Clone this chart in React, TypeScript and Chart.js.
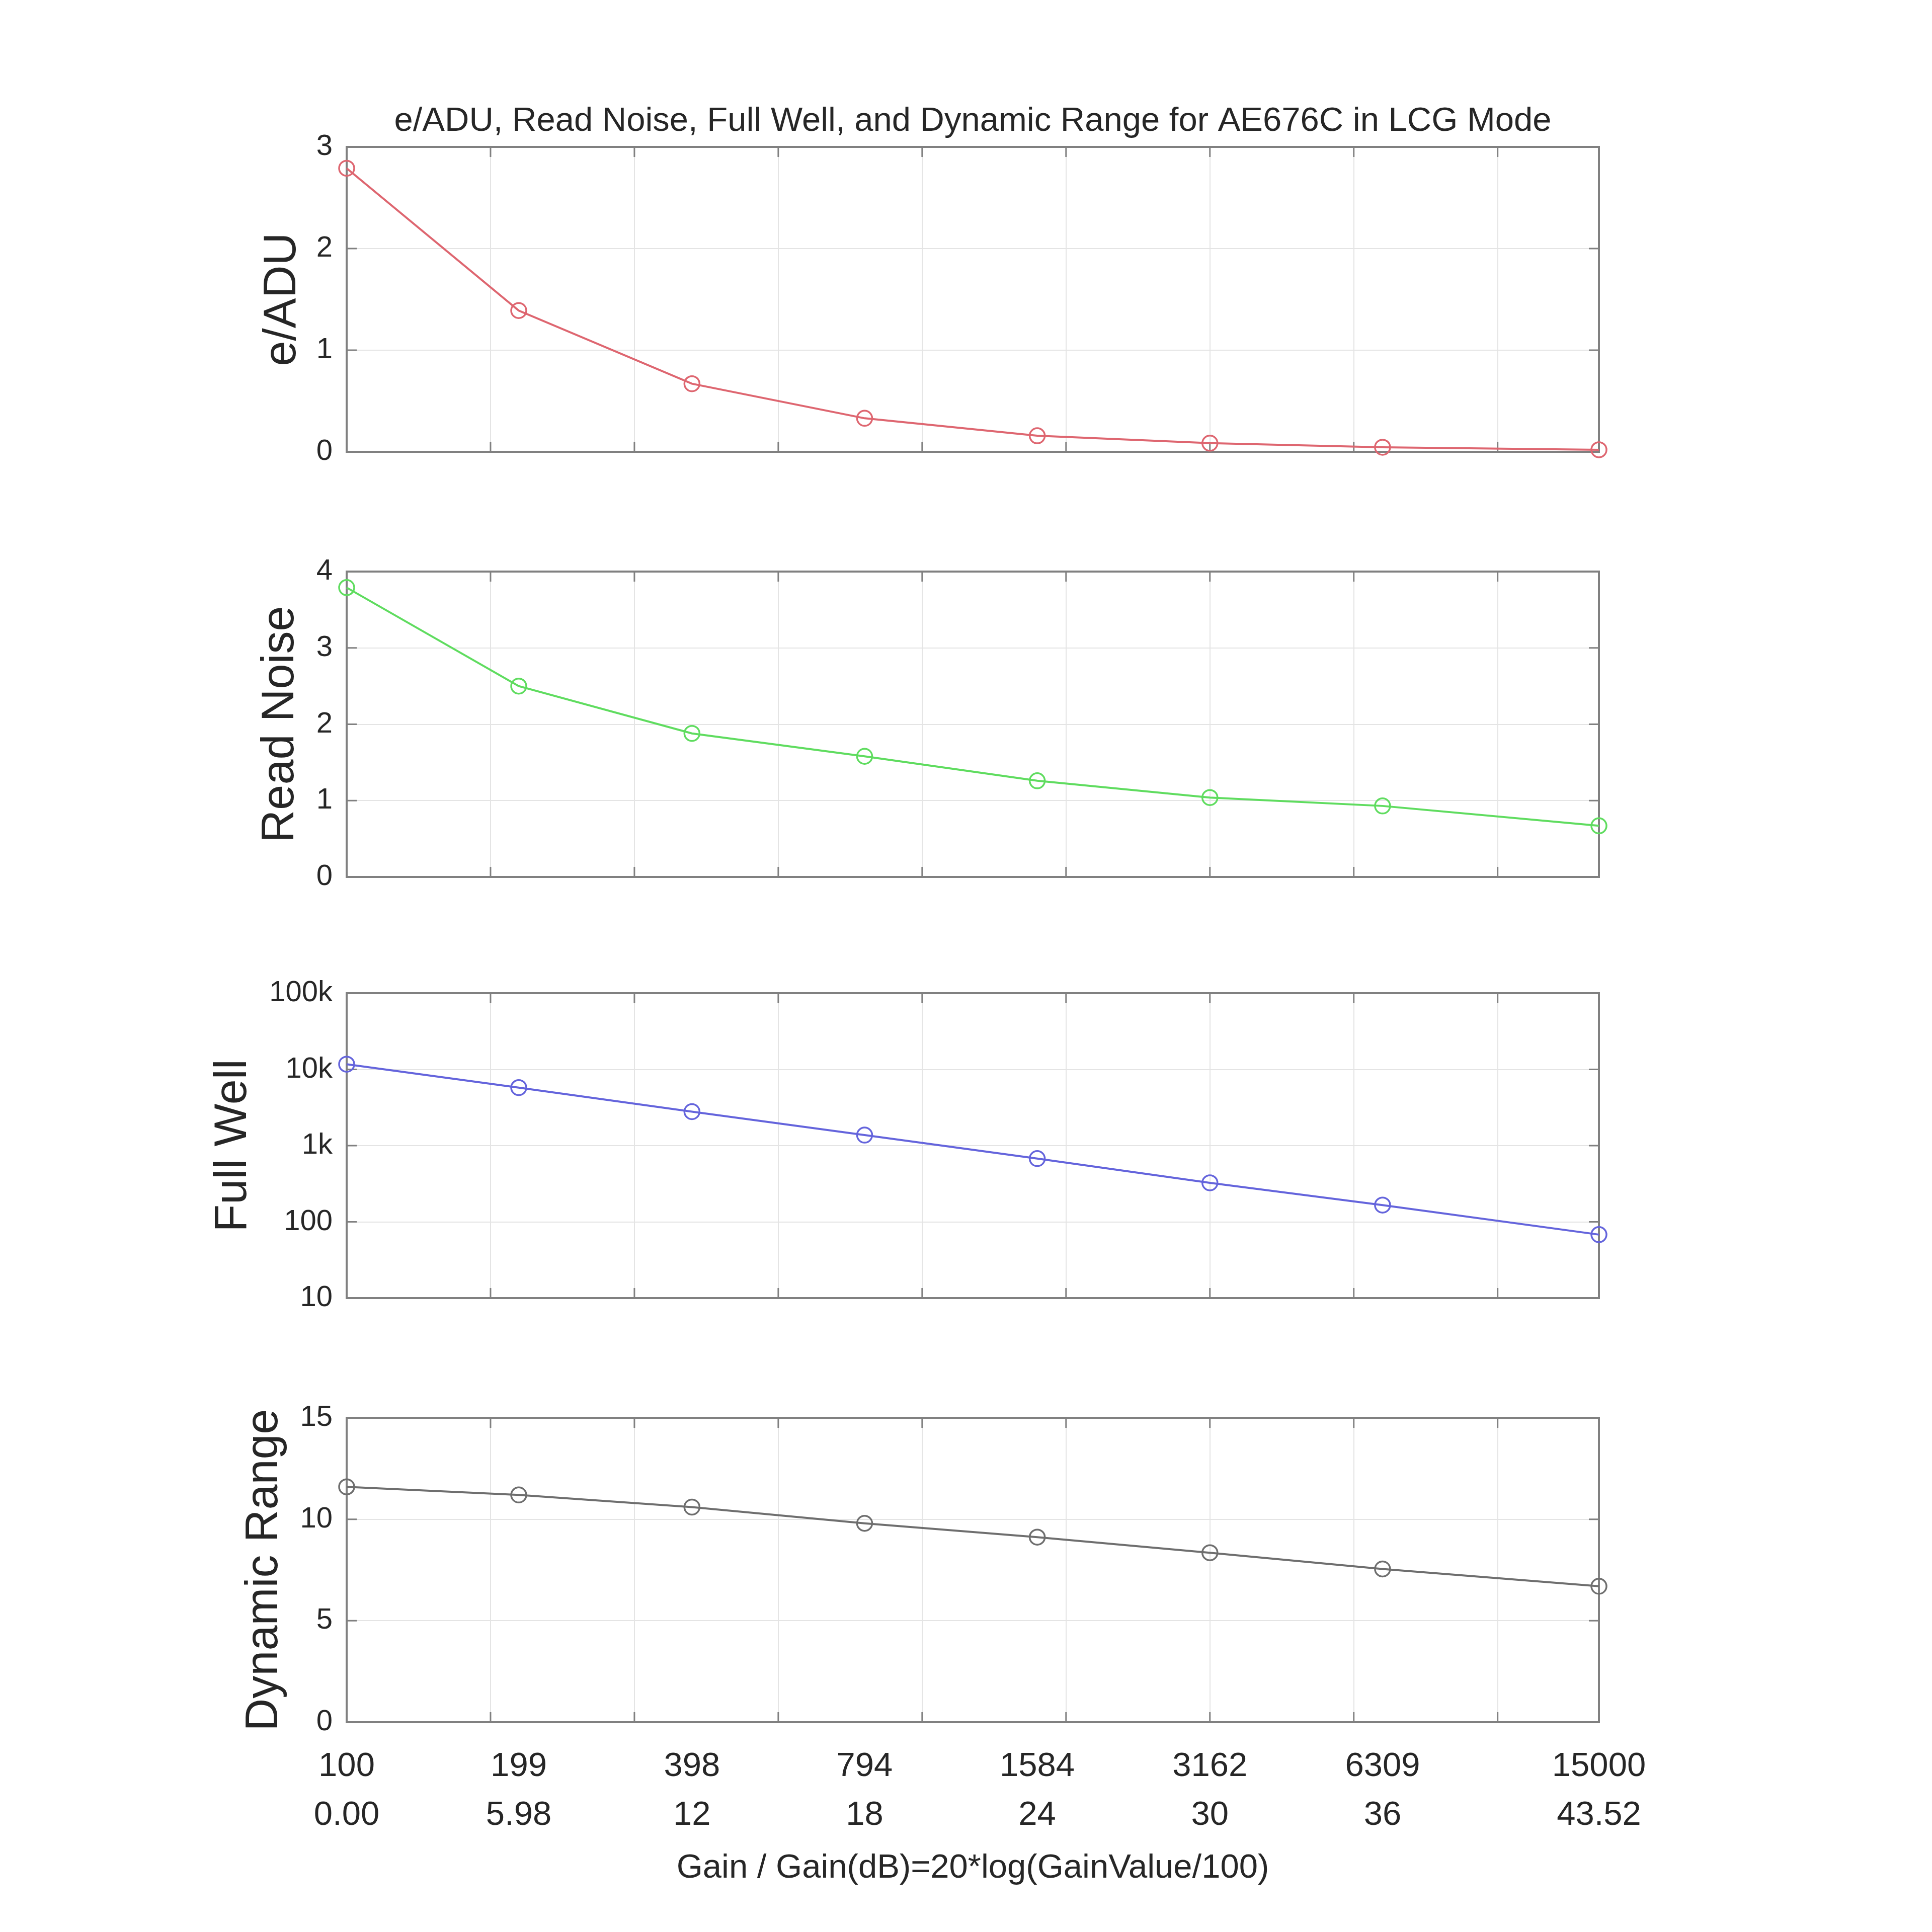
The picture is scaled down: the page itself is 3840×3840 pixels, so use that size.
import { useEffect, useRef } from 'react'
import { Chart, registerables } from 'chart.js'

Chart.register(...registerables)

// x axis: gain in dB, labelled with both the raw gain value and the dB value
const gainValues = ['100', '199', '398', '794', '1584', '3162', '6309', '15000']
const gainDbLabels = ['0.00', '5.98', '12', '18', '24', '30', '36', '43.52']
const gainDb = [0, 5.98, 12, 18, 24, 30, 36, 43.52]
const gridDb = [0, 5, 10, 15, 20, 25, 30, 35, 40]

// series
const eAdu = [2.79, 1.39, 0.67, 0.33, 0.158, 0.085, 0.045, 0.02]
const readNoise = [3.79, 2.5, 1.88, 1.58, 1.26, 1.04, 0.93, 0.67]
const fullWell = [11700, 5770, 2790, 1375, 676, 325, 166, 68]
const dynamicRange = [11.6, 11.2, 10.6, 9.8, 9.12, 8.35, 7.55, 6.7]

const eAduTicks = [0, 1, 2, 3]
const readNoiseTicks = [0, 1, 2, 3, 4]
const fullWellTicks = [10, 100, 1000, 10000, 100000]
const fullWellTickLabels = ['10', '100', '1k', '10k', '100k']
const dynamicRangeTicks = [0, 5, 10, 15]

const FONT = '"Liberation Sans", Arial, Helvetica, sans-serif'
const TEXT = '#262626'
const GRID = '#e4e4e4'
const AXIS = '#808080'
const PLOT_LEFT = 689
const PLOT_RIGHT = 3178
const PAD = 100

const boxPlugin = {
  id: 'matlabBox',
  beforeDatasetsDraw(chart: any) {
    const { ctx, chartArea: a } = chart
    const y = chart.scales.y
    const x = chart.scales.x
    const tl = 20
    ctx.save()
    ctx.strokeStyle = AXIS
    ctx.lineWidth = 3
    ctx.beginPath()
    for (const t of y.ticks) {
      const py = y.getPixelForValue(t.value)
      ctx.moveTo(a.left, py)
      ctx.lineTo(a.left + tl, py)
      ctx.moveTo(a.right, py)
      ctx.lineTo(a.right - tl, py)
    }
    for (const t of x.ticks) {
      const px = x.getPixelForValue(t.value)
      ctx.moveTo(px, a.bottom)
      ctx.lineTo(px, a.bottom - tl)
      ctx.moveTo(px, a.top)
      ctx.lineTo(px, a.top + tl)
    }
    ctx.stroke()
    ctx.lineWidth = 4
    ctx.strokeRect(a.left, a.top, a.right - a.left, a.bottom - a.top)
    ctx.restore()
  },
}

type PanelProps = {
  label: string
  values: number[]
  color: string
  ticks: number[]
  tickLabels?: string[]
  log?: boolean
  plotTop: number
  plotBottom: number
  titleCenter: number
  first?: boolean
  last?: boolean
}

function Panel({ label, values, color, ticks, tickLabels, log, plotTop, plotBottom, titleCenter, first, last }: PanelProps) {
  const ref = useRef<HTMLCanvasElement>(null)

  const top = first ? 0 : plotTop - PAD
  const bottomSpace = last ? 3840 - plotBottom : PAD
  const height = last ? 3840 - top : plotBottom - top + PAD

  useEffect(() => {
    if (!ref.current) return
    const scales: any = {
      x: {
        type: 'linear',
        min: 0,
        max: 43.52,
        afterBuildTicks: (s: any) => {
          s.ticks = gridDb.map((v) => ({ value: v }))
        },
        grid: { color: GRID, lineWidth: 2, drawTicks: false },
        border: { display: false },
        ticks: { display: false },
        afterFit: (s: any) => {
          s.height = 0
        },
      },
      y: {
        type: log ? 'logarithmic' : 'linear',
        min: ticks[0],
        max: ticks[ticks.length - 1],
        afterBuildTicks: (s: any) => {
          s.ticks = ticks.map((v) => ({ value: v }))
        },
        afterFit: (s: any) => {
          s.width = PLOT_LEFT
        },
        grid: { color: GRID, lineWidth: 2, drawTicks: false },
        border: { display: false },
        ticks: {
          padding: 28,
          color: TEXT,
          font: { family: FONT, size: 58 },
          callback: (v: number, i: number) => (tickLabels ? tickLabels[i] : String(v)),
        },
        title: {
          display: true,
          text: label,
          color: TEXT,
          font: { family: FONT, size: 90 },
          padding: { top: titleCenter - 54, bottom: 0 },
        },
      },
    }
    if (last) {
      scales.xl = {
        type: 'linear',
        position: 'bottom',
        min: 0,
        max: 43.52,
        afterBuildTicks: (s: any) => {
          s.ticks = gainDb.map((v) => ({ value: v }))
        },
        afterFit: (s: any) => {
          s.height = bottomSpace
        },
        grid: { display: false },
        border: { display: false },
        ticks: {
          autoSkip: false,
          maxRotation: 0,
          padding: 32,
          color: TEXT,
          font: { family: FONT, size: 67, lineHeight: 1.45 },
          callback: (_v: number, i: number) => [gainValues[i], gainDbLabels[i]],
        },
        title: {
          display: true,
          text: 'Gain / Gain(dB)=20*log(GainValue/100)',
          color: TEXT,
          font: { family: FONT, size: 67 },
          padding: { top: 0, bottom: 86 },
        },
      }
    }

    const chart = new Chart(ref.current, {
      type: 'line',
      data: {
        datasets: [
          {
            label,
            data: gainDb.map((x, i) => ({ x, y: values[i] })),
            borderColor: color,
            borderWidth: 4,
            pointRadius: 15,
            pointBorderWidth: 3.5,
            pointBackgroundColor: 'rgba(0,0,0,0)',
            pointBorderColor: color,
            tension: 0,
            clip: false as any,
          },
        ],
      },
      options: {
        animation: false,
        responsive: false,
        devicePixelRatio: 1,
        layout: {
          padding: { left: 0, right: 3840 - PLOT_RIGHT, top: first ? 0 : PAD, bottom: last ? 0 : PAD },
        },
        scales,
        plugins: {
          legend: { display: false },
          tooltip: { enabled: false },
          title: {
            display: !!first,
            text: 'e/ADU, Read Noise, Full Well, and Dynamic Range for AE676C in LCG Mode',
            color: TEXT,
            fullSize: false,
            font: { family: FONT, size: 67, weight: 'normal' },
            padding: { top: 201, bottom: plotTop - 201 - 80.4 },
          },
        },
      },
      plugins: [boxPlugin],
    })
    return () => chart.destroy()
  }, [])

  return (
    <canvas
      ref={ref}
      width={3840}
      height={height}
      style={{ position: 'absolute', left: 0, top, width: 3840, height }}
    />
  )
}

export default function App() {
  return (
    <div style={{ position: 'absolute', left: 0, top: 0, width: 3840, height: 3840, background: '#fff', overflow: 'hidden' }}>
      <Panel label="e/ADU" values={eAdu} color="#de6670" ticks={eAduTicks} plotTop={292} plotBottom={898} titleCenter={562} first />
      <Panel label="Read Noise" values={readNoise} color="#5fdc5f" ticks={readNoiseTicks} plotTop={1136} plotBottom={1743} titleCenter={558} />
      <Panel
        label="Full Well"
        values={fullWell}
        color="#6464dc"
        ticks={fullWellTicks}
        tickLabels={fullWellTickLabels}
        log
        plotTop={1974}
        plotBottom={2580}
        titleCenter={464}
      />
      <Panel label="Dynamic Range" values={dynamicRange} color="#6e6e6e" ticks={dynamicRangeTicks} plotTop={2818} plotBottom={3423} titleCenter={526} last />
    </div>
  )
}
